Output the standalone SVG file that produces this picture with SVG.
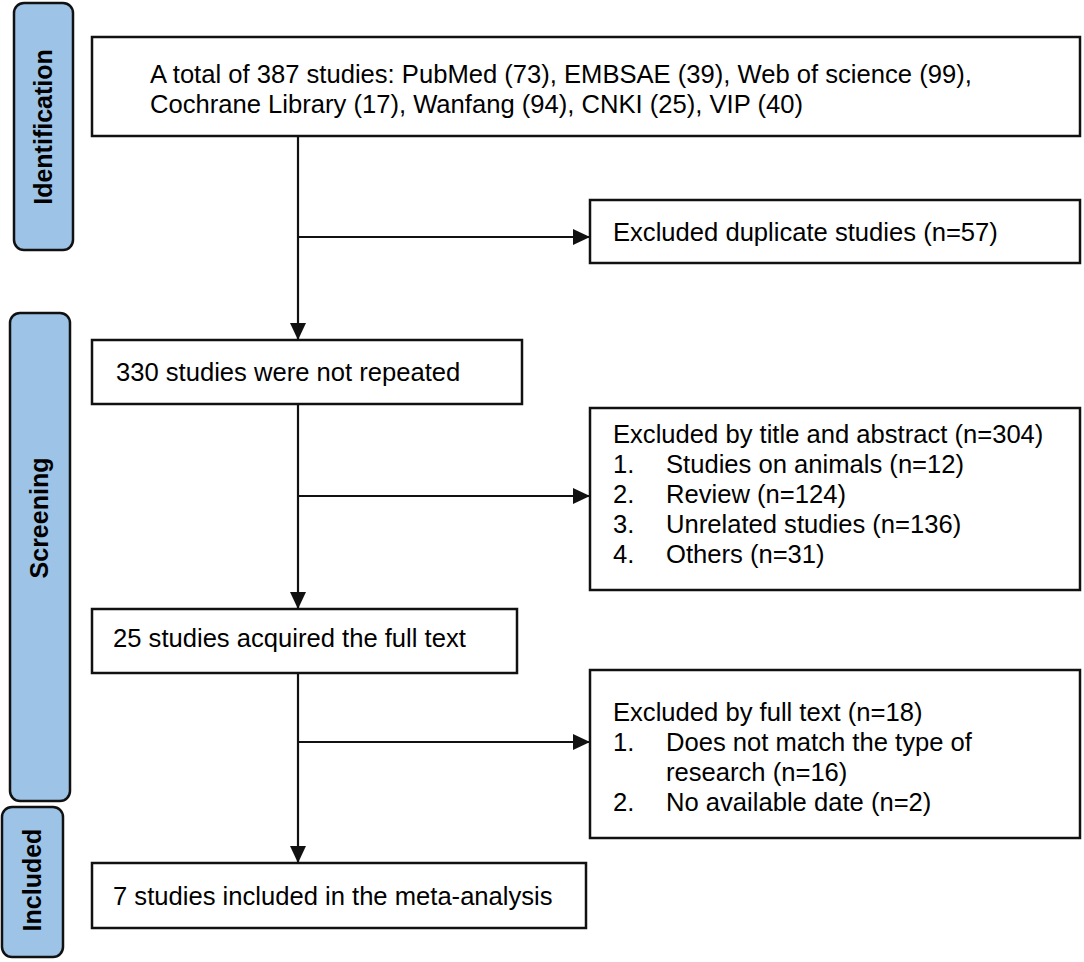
<svg xmlns="http://www.w3.org/2000/svg" width="1084" height="962" viewBox="0 0 1084 962">
<style>
.bar{fill:#9DC3E6;stroke:#111;stroke-width:2.5}
.box{fill:#fff;stroke:#111;stroke-width:2.5}
.lbl{font-family:"Liberation Sans",Arial,sans-serif;font-weight:bold;font-size:25px;fill:#000;text-anchor:middle}
.t{font-family:"Liberation Sans",Arial,sans-serif;font-size:25.6px;fill:#000}
.ln{stroke:#111;stroke-width:2.2;fill:none}
</style>
<defs>
<marker id="ah" markerWidth="17" markerHeight="16" refX="17" refY="8" orient="auto" markerUnits="userSpaceOnUse">
<path d="M0,0 L17,8 L0,16 Z" fill="#111"/>
</marker>
</defs>
<rect width="1084" height="962" fill="#fff"/>
<g id="bar-identification">
<rect class="bar" x="14" y="3" width="59" height="247" rx="10"/>
<text class="lbl" transform="translate(52,127) rotate(-90)">Identification</text>
</g>
<g id="bar-screening">
<rect class="bar" x="10" y="313" width="60" height="488" rx="10"/>
<text class="lbl" transform="translate(48,518) rotate(-90)">Screening</text>
</g>
<g id="bar-included">
<rect class="bar" x="2" y="807" width="61" height="150" rx="10"/>
<text class="lbl" transform="translate(41,880) rotate(-90)">Included</text>
</g>
<g id="connectors">
<line class="ln" x1="298" y1="136" x2="298" y2="340" marker-end="url(#ah)"/>
<line class="ln" x1="298" y1="237" x2="590" y2="237" marker-end="url(#ah)"/>
<line class="ln" x1="298" y1="404" x2="298" y2="609" marker-end="url(#ah)"/>
<line class="ln" x1="298" y1="496" x2="590" y2="496" marker-end="url(#ah)"/>
<line class="ln" x1="298" y1="673" x2="298" y2="863" marker-end="url(#ah)"/>
<line class="ln" x1="298" y1="742" x2="590" y2="742" marker-end="url(#ah)"/>
</g>
<g id="node-total">
<rect class="box" x="92" y="37" width="988" height="99"/>
<text class="t" x="150" y="83">A total of 387 studies: PubMed (73), EMBSAE (39), Web of science (99),</text>
<text class="t" x="150" y="113">Cochrane Library (17), Wanfang (94), CNKI (25), VIP (40)</text>
</g>
<g id="node-duplicates">
<rect class="box" x="590" y="200" width="490" height="63"/>
<text class="t" x="613" y="241">Excluded duplicate studies (n=57)</text>
</g>
<g id="node-330">
<rect class="box" x="92" y="340" width="430" height="64"/>
<text class="t" x="116" y="381">330 studies were not repeated</text>
</g>
<g id="node-title-abstract">
<rect class="box" x="590" y="408" width="490" height="182"/>
<text class="t" x="613" y="443">Excluded by title and abstract (n=304)</text>
<text class="t" x="613" y="473">1.</text><text class="t" x="666" y="473">Studies on animals (n=12)</text>
<text class="t" x="613" y="503">2.</text><text class="t" x="666" y="503">Review (n=124)</text>
<text class="t" x="613" y="533">3.</text><text class="t" x="666" y="533">Unrelated studies (n=136)</text>
<text class="t" x="613" y="563">4.</text><text class="t" x="666" y="563">Others (n=31)</text>
</g>
<g id="node-25">
<rect class="box" x="92" y="609" width="425" height="64"/>
<text class="t" x="113" y="647">25 studies acquired the full text</text>
</g>
<g id="node-full-text">
<rect class="box" x="590" y="670" width="490" height="168"/>
<text class="t" x="613" y="721">Excluded by full text (n=18)</text>
<text class="t" x="613" y="751">1.</text><text class="t" x="666" y="751">Does not match the type of</text>
<text class="t" x="666" y="781">research (n=16)</text>
<text class="t" x="613" y="811">2.</text><text class="t" x="666" y="811">No available date (n=2)</text>
</g>
<g id="node-included">
<rect class="box" x="92" y="863" width="494" height="65"/>
<text class="t" x="113" y="905">7 studies included in the meta-analysis</text>
</g>
</svg>
